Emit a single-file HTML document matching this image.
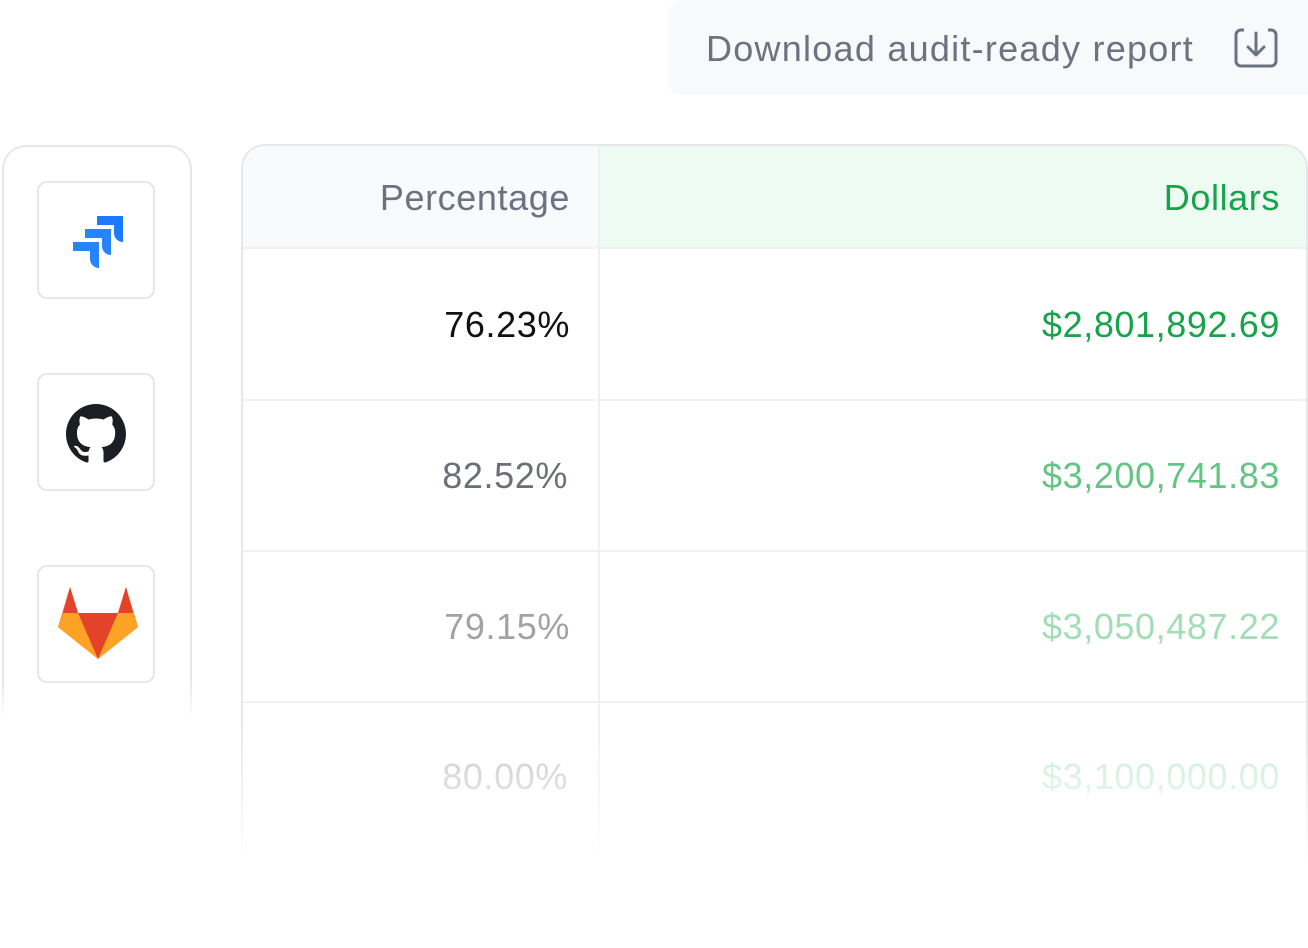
<!DOCTYPE html>
<html><head><style>
body{margin:0;width:1308px;height:948px;background:#fff;font-family:"Liberation Sans",sans-serif;position:relative;overflow:hidden}
.btn{position:absolute;left:668px;top:0;width:660px;height:95px;background:#f8f9fb;border-radius:14px}
.btn span{position:absolute;left:38px;top:28px;font-size:36px;color:#6b7280;letter-spacing:1.25px}
.left{position:absolute;left:2px;top:145px;width:186px;height:620px;border:2px solid #e6e7ea;border-bottom:none;border-radius:24px 24px 0 0;-webkit-mask-image:linear-gradient(#000 86%,transparent 92%);mask-image:linear-gradient(#000 86%,transparent 92%)}
.ib{position:absolute;left:33px;width:114px;height:114px;border:2px solid #e6e7ea;border-radius:10px;background:#fff}
.tbl{position:absolute;left:241px;top:144px;width:1063px;height:720px;border:2px solid #e6e7ea;border-bottom:none;border-radius:24px 24px 0 0;overflow:hidden;-webkit-mask-image:linear-gradient(#000 80%,transparent 100%);mask-image:linear-gradient(#000 80%,transparent 100%)}
.hd{position:absolute;top:0;height:101px;border-bottom:2px solid #eef0f2}
.cell{position:absolute;font-size:36px;text-align:right;letter-spacing:0.6px}
.row{position:absolute;left:0;width:1063px;border-bottom:2px solid #f0f1f3}
.div{position:absolute;left:355px;top:0;width:2px;height:720px;background:#eef0f2}
</style></head><body>
<div class="btn"><span>Download audit-ready report</span>
<svg style="position:absolute;left:566px;top:28px" width="44" height="40" viewBox="0 0 44 40"><rect x="2" y="2" width="40" height="36" rx="5" fill="none" stroke="#6b7280" stroke-width="3"/><rect x="10" y="0" width="24" height="5" fill="#f8f9fb"/><path d="M22 5v22M14 19l8 8 8-8" fill="none" stroke="#6b7280" stroke-width="3" stroke-linecap="round" stroke-linejoin="round"/></svg>
</div>
<div class="left">
<div class="ib" style="top:34px"><svg style="position:absolute;left:30px;top:30px" width="56" height="56" viewBox="0 0 56 56"><path d="M28 3h26v26a9 9 0 0 1-9-9V12H28z" fill="#1d7afc"/><path d="M16 16h26v26a9 9 0 0 1-9-9v-8H16z" fill="#2684ff"/><path d="M4 29h26v26a9 9 0 0 1-9-9v-8H4z" fill="#2684ff"/></svg></div>
<div class="ib" style="top:226px"><svg style="position:absolute;left:27px;top:29px" width="60" height="60" viewBox="0 0 16 16"><path fill="#1b1f23" d="M8 0C3.58 0 0 3.580 0 8c0 3.54 2.29 6.53 5.47 7.59.4.07.55-.17.55-.38 0-.19-.01-.82-.01-1.490-2.01.37-2.53-.49-2.69-.94-.09-.23-.48-.94-.82-1.13-.28-.15-.68-.52-.01-.53.63-.01 1.08.58 1.23.82.72 1.21 1.87.87 2.33.66.07-.52.28-.87.51-1.07-1.78-.2-3.64-.89-3.640-3.95 0-.87.31-1.59.82-2.15-.08-.2-.36-1.02.08-2.12 0 0 .67-.21 2.2.82.64-.18 1.32-.27 2-.27.68 0 1.36.09 2 .27 1.53-1.04 2.2-.82 2.2-.82.44 1.1.16 1.92.08 2.12.51.56.82 1.27.82 2.15 0 3.07-1.87 3.75-3.65 3.95.29.25.54.73.54 1.48 0 1.07-.01 1.93-.01 2.2 0 .21.15.46.55.38A8.013 8.013 0 0016 8c0-4.42-3.58-8-8-8z"/></svg></div>
<div class="ib" style="top:418px"><svg style="position:absolute;left:19px;top:20px" width="80" height="74" viewBox="0 0 80 74"><polygon points="40,72 0,40 12,0 20,26 60,26 68,0 80,40" fill="#fc6d26"/><polygon points="40,72 20,26 60,26" fill="#e24329"/><polygon points="12,0 20,26 5,26" fill="#e24329"/><polygon points="68,0 60,26 75,26" fill="#e24329"/><polygon points="40,72 0,40 5,26 20,26" fill="#fca326"/><polygon points="40,72 80,40 75,26 60,26" fill="#fca326"/></svg></div>
</div>
<div class="tbl">
<div class="hd" style="left:0;width:355px;background:#f8fafc"></div>
<div class="hd" style="left:355px;width:708px;background:#eefbf2"></div>
<div class="cell" style="right:736px;top:31px;color:#6b7280">Percentage</div>
<div class="cell" style="right:26px;top:31px;color:#16a34a">Dollars</div>
<div class="row" style="top:103px;height:150px"></div>
<div class="row" style="top:254px;height:150px"></div>
<div class="row" style="top:405px;height:150px"></div>
<div class="div"></div>
<div class="cell" style="right:736px;top:158px;color:#111">76.23%</div>
<div class="cell" style="right:26px;top:158px;color:#16a34a">$2,801,892.69</div>
<div class="cell" style="right:738px;top:309px;color:#6b6f76">82.52%</div>
<div class="cell" style="right:26px;top:309px;color:#63c583">$3,200,741.83</div>
<div class="cell" style="right:736px;top:460px;color:#a0a2a6">79.15%</div>
<div class="cell" style="right:26px;top:460px;color:#a3ddb6">$3,050,487.22</div>
<div class="cell" style="right:738px;top:610px;color:#c4c5c8">80.00%</div>
<div class="cell" style="right:26px;top:610px;color:#c6ebd2">$3,100,000.00</div>
</div>
</body></html>
